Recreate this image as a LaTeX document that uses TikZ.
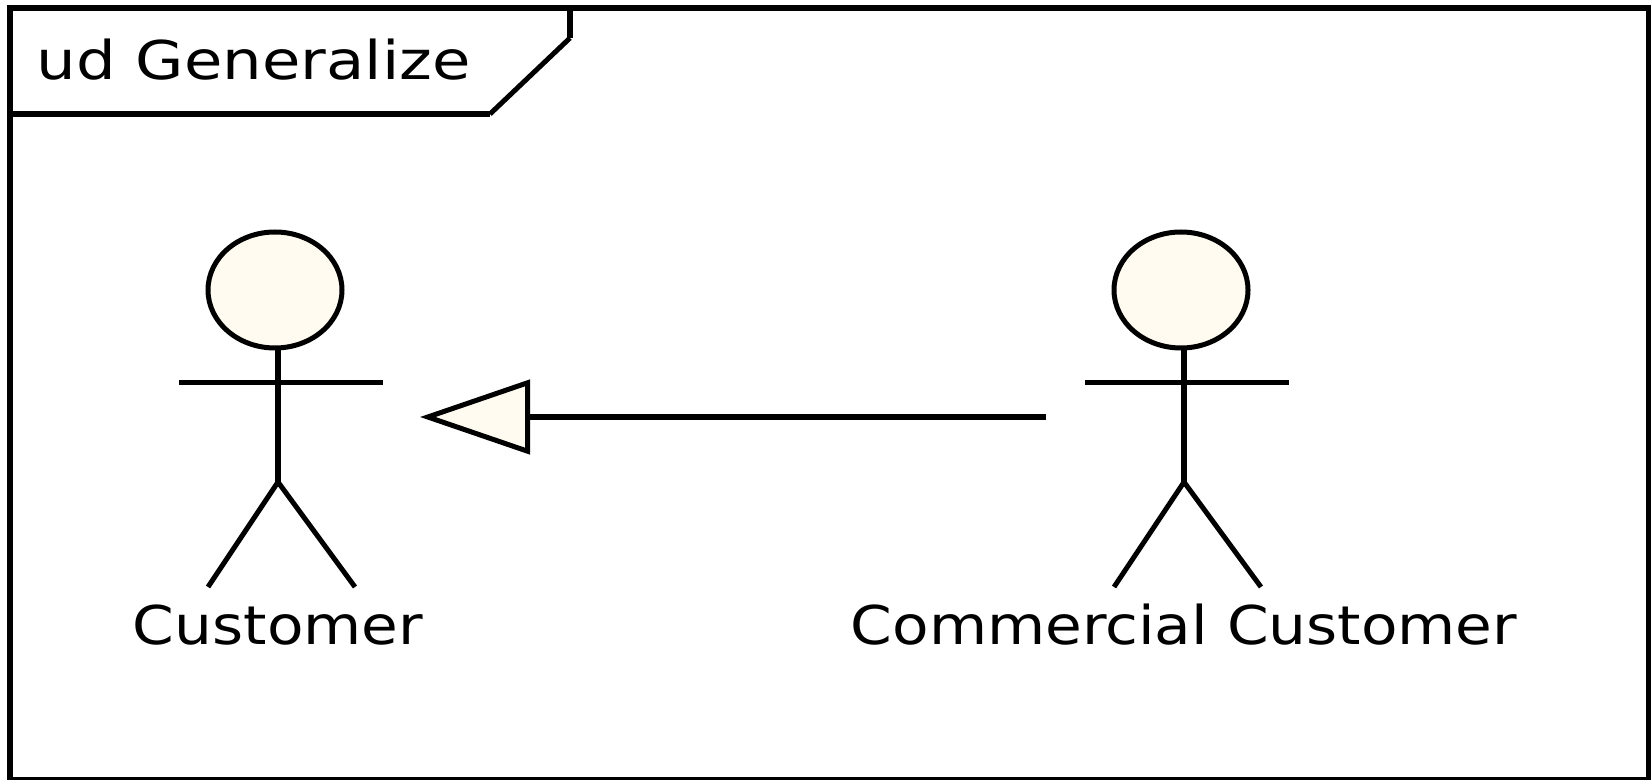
\documentclass[tikz,border=0pt]{standalone}
\usepackage{fontspec}
\setmainfont{DejaVu Sans}
\usetikzlibrary{arrows.meta,shapes.geometric}
\definecolor{actorfill}{HTML}{FFFBF0}
\tikzset{
    frameline/.style={line width=0.06cm},
    limbline/.style={line width=0.05cm},
    actorhead/.style={ellipse,draw,fill=actorfill,line width=0.05cm,inner sep=0pt,minimum width=1.34cm,minimum height=1.16cm},
    umltext/.style={inner sep=0pt,anchor=base,xscale=1.118,font=\fontsize{15.2}{18}\selectfont},
    generalize/.style={line width=0.05cm,-{Triangle[open,length=1.1cm,width=0.74cm,fill=actorfill]}}
}

\begin{document}
\begin{tikzpicture}
    \useasboundingbox (0,0) rectangle (16.51,7.79);

    % Frame and its tab
    \draw[frameline] (0.1,-0.01) -- (0.1,7.705) -- (16.485,7.705) -- (16.485,-0.01) -- cycle;
    \draw[frameline] (0.1,6.65) -- (4.9,6.65);
    \draw[limbline] (4.9,6.65) -- (5.7,7.41);
    \draw[frameline] (5.7,7.41) -- (5.7,7.705);
    \node[umltext,anchor=base west,xscale=1.046] (title) at (0.36,6.99) {ud Generalize};

    % Left actor
    \begin{scope}
        \node[actorhead] (customerhead) at (2.75,4.89) {};
        \coordinate (customerhip) at (2.78,2.97);
        \coordinate (customerarml) at (1.79,3.96);
        \coordinate (customerarmr) at (3.83,3.96);
        \coordinate (customerfootl) at (2.08,1.92);
        \coordinate (customerfootr) at (3.55,1.92);
        \draw[frameline] (2.78,4.29) -- (customerhip);
        \draw[limbline] (customerarml) -- (customerarmr);
        \draw[limbline] (customerhip) -- (customerfootl);
        \draw[limbline] (customerhip) -- (customerfootr);
        \node[umltext] (customer) at (2.78,1.35) {Customer};
    \end{scope}

    % Right actor
    \begin{scope}[shift={(9.06,0)}]
        \node[actorhead] (commercialhead) at (2.75,4.89) {};
        \coordinate (commercialhip) at (2.78,2.97);
        \coordinate (commercialarml) at (1.79,3.96);
        \coordinate (commercialarmr) at (3.83,3.96);
        \coordinate (commercialfootl) at (2.08,1.92);
        \coordinate (commercialfootr) at (3.55,1.92);
        \draw[frameline] (2.78,4.29) -- (commercialhip);
        \draw[limbline] (commercialarml) -- (commercialarmr);
        \draw[limbline] (commercialhip) -- (commercialfootl);
        \draw[limbline] (commercialhip) -- (commercialfootr);
        \node[umltext] (commercial) at (2.78,1.35) {Commercial Customer};
    \end{scope}

    % Generalization
    \coordinate (arrowstart) at (10.46,3.62);
    \coordinate (arrowend) at (4.2,3.62);
    \draw[generalize] (arrowstart) -- (arrowend);
\end{tikzpicture}
\end{document}
